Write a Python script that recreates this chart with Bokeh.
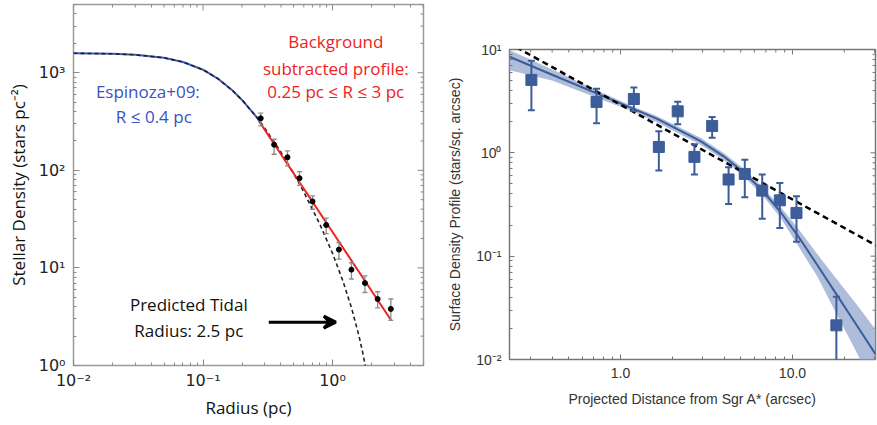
import math
from bokeh.plotting import figure
from bokeh.layouts import row, column
from bokeh.models import Range1d, FixedTicker, Arrow, VeeHead, Label
from bokeh.embed import file_html
from bokeh.resources import INLINE

# ---------------- Left panel data ----------------
radius_pc = [0.279, 0.354, 0.449, 0.556, 0.701, 0.893, 1.12, 1.40, 1.78, 2.23, 2.82]
density = [341, 183, 136, 83, 48, 27.5, 15.4, 9.6, 7.0, 4.8, 3.8]
density_hi = [385, 208, 158, 97, 54.6, 32.3, 18.2, 11.3, 8.3, 5.7, 4.8]
density_lo = [285, 146, 111, 70, 39.9, 22.4, 12.3, 7.7, 5.6, 3.9, 2.9]

king_r = [0.01, 0.02, 0.03, 0.05, 0.07, 0.1, 0.13, 0.17, 0.2, 0.25, 0.279, 0.3, 0.4, 0.5,
          0.6, 0.8, 1.0, 1.2, 1.4, 1.6, 1.7, 1.8, 1.9]
king_sigma = [1583, 1562, 1526, 1422, 1289, 1073, 872, 652, 526, 372, 310, 270, 153, 93.1,
              60.0, 27.8, 14.1, 7.41, 3.91, 2.01, 1.41, 0.964, 0.636]
espinoza_r = king_r[:11]
espinoza_sigma = king_sigma[:11]

bg_fit_r = [0.27, 2.85]
bg_fit_sigma = [320, 2.87]

left_xticks = [0.01, 0.1, 1]
left_xlabels = ["10\u207b\u00b2", "10\u207b\u00b9", "10\u2070"]
left_yticks = [1, 10, 100, 1000]
left_ylabels = ["10\u2070", "10\u00b9", "10\u00b2", "10\u00b3"]

# ---------------- Right panel data ----------------
dist = [0.303, 0.725, 1.195, 1.67, 2.15, 2.69, 3.41, 4.25, 5.28, 6.67, 8.44, 10.55, 18.0]
sd = [5.08, 3.11, 3.32, 1.14, 2.52, 0.914, 1.82, 0.552, 0.625, 0.431, 0.347, 0.262, 0.0214]
sd_hi = [7.77, 4.18, 4.28, 1.62, 3.13, 1.21, 2.22, 0.726, 0.855, 0.617, 0.511, 0.38, 0.0404]
sd_lo = [2.58, 1.93, 2.54, 0.675, 1.89, 0.617, 1.40, 0.32, 0.371, 0.23, 0.187, 0.138, 0.005]

fit_x = [0.226, 0.4, 0.732, 1.2, 1.635, 2.92, 4.0, 5.21, 6.67, 8.51, 10.65, 14, 17.4, 24, 30.4]
fit_y = [8.5, 5.70, 3.74, 2.65, 2.13, 1.30, 0.92, 0.644, 0.433, 0.269, 0.161, 0.0813, 0.0467, 0.0206, 0.01126]
fit_hi = [9.9, 6.39, 4.02, 2.78, 2.26, 1.40, 0.99, 0.70, 0.47, 0.30, 0.19, 0.104, 0.065, 0.033, 0.0195]
fit_lo = [6.3, 5.01, 3.39, 2.48, 1.97, 1.20, 0.85, 0.59, 0.39, 0.237, 0.13, 0.063, 0.031, 0.0111, 0.0048]

plaw_x = [0.22, 32]
plaw_y = [11.7, 0.122]

right_xticks = [1, 10]
right_xlabels = ["1.0", "10.0"]
right_yticks = [0.01, 0.1, 1, 10]
right_ylabels = ["10\u207b\u00b2", "10\u207b\u00b9", "10\u2070", "10\u00b9"]


def minor_list(lo_exp, hi_exp):
    return [m * 10.0 ** k for k in range(lo_exp, hi_exp) for m in range(2, 10)]


def style_axis(ax, color, font, size, tick_len=6, minor_len=3, standoff=8):
    ax.axis_line_color = None
    ax.major_tick_in = tick_len
    ax.major_tick_out = 0
    ax.minor_tick_in = minor_len
    ax.minor_tick_out = 0
    ax.major_tick_line_color = color
    ax.minor_tick_line_color = color
    ax.major_label_text_font = font
    ax.major_label_text_font_size = size
    ax.major_label_standoff = standoff


def mirror_ticks(p, xr, yr, xt, xm, yt, ym, color, tick_len, minor_len):
    # tick marks on the top and right edges (glyphs are clipped to the frame)
    p.scatter(xt, [yr.end] * len(xt), marker="dash", angle=math.pi / 2, size=2 * tick_len,
              line_color=color, line_width=1)
    p.scatter(xm, [yr.end] * len(xm), marker="dash", angle=math.pi / 2, size=2 * minor_len,
              line_color=color, line_width=1)
    p.scatter([xr.end] * len(yt), yt, marker="dash", size=2 * tick_len, line_color=color, line_width=1)
    p.scatter([xr.end] * len(ym), ym, marker="dash", size=2 * minor_len, line_color=color, line_width=1)


def add_text(p, x, y, txt, color, font, size):
    p.add_layout(Label(x=x, y=y, text=txt, text_color=color, text_font=font,
                       text_font_size=size, text_align="center", text_baseline="middle"))


# ================= Left figure =================
xr1 = Range1d(0.01, 5.04)
yr1 = Range1d(1, 5000)
p1 = figure(frame_width=350, frame_height=361, x_axis_type="log", y_axis_type="log",
            x_range=xr1, y_range=yr1, title=None,
            output_backend="svg", toolbar_location=None,
            min_border_left=73, min_border_right=17, min_border_top=4, min_border_bottom=60)
p1.grid.visible = False
p1.outline_line_color = "#9a9a9a"
p1.outline_line_width = 1.5
p1.background_fill_color = "white"
p1.border_fill_color = "white"

lx_min = minor_list(-2, 1)
ly_min = minor_list(0, 4)
p1.xaxis.ticker = FixedTicker(ticks=left_xticks, minor_ticks=lx_min)
p1.yaxis.ticker = FixedTicker(ticks=left_yticks, minor_ticks=ly_min)
p1.xaxis.major_label_overrides = dict(zip(left_xticks, left_xlabels))
p1.yaxis.major_label_overrides = dict(zip(left_yticks, left_ylabels))
for ax in (p1.xaxis[0], p1.yaxis[0]):
    style_axis(ax, "#8a8a8a", "DejaVu Sans", "16px")
    ax.major_label_text_color = "#222222"
    ax.axis_label_text_font = "Open Sans"
    ax.axis_label_text_font_size = "17px"
    ax.axis_label_text_font_style = "normal"
    ax.axis_label_text_color = "#111111"
p1.xaxis.axis_label = "Radius (pc)"
p1.yaxis.axis_label = "Stellar Density (stars pc\u207b\u00b2)"
p1.xaxis.major_label_standoff = 5
p1.xaxis.axis_label_standoff = 3
p1.yaxis.axis_label_standoff = 6
mirror_ticks(p1, xr1, yr1, left_xticks, lx_min, left_yticks, ly_min, "#8a8a8a", 6, 3)

p1.line(espinoza_r, espinoza_sigma, line_color="#3f5bc4", line_width=2)
p1.line(king_r, king_sigma, line_color="#222222", line_width=1.6, line_dash="4 3")
p1.line(bg_fit_r, bg_fit_sigma, line_color="#ee2222", line_width=2)

p1.segment(radius_pc, density_lo, radius_pc, density_hi, line_color="#8c8c8c", line_width=1.3)
p1.scatter(radius_pc, density_hi, marker="dash", size=5, line_color="#8c8c8c", line_width=1.3)
p1.scatter(radius_pc, density_lo, marker="dash", size=5, line_color="#8c8c8c", line_width=1.3)
p1.scatter(radius_pc, density, marker="circle", size=5, fill_color="black", line_color="black")

add_text(p1, 1.06, 2105, "Background", "#ee2222", "Open Sans", "17px")
add_text(p1, 1.06, 1114, "subtracted profile:", "#ee2222", "Open Sans", "17px")
add_text(p1, 1.06, 648, "0.25 pc \u2264 R \u2264 3 pc", "#ee2222", "Open Sans", "17px")
add_text(p1, 0.0375, 648, "Espinoza+09:", "#3a52c4", "Open Sans", "17px")
add_text(p1, 0.0417, 360, "R \u2264 0.4 pc", "#3a52c4", "Open Sans", "17px")
add_text(p1, 0.0777, 4.21, "Predicted Tidal", "#111111", "Open Sans", "17px")
add_text(p1, 0.0777, 2.27, "Radius: 2.5 pc", "#111111", "Open Sans", "17px")
p1.add_layout(Arrow(end=VeeHead(size=12, line_color="black", line_width=3, fill_color="black"),
                    x_start=0.322, y_start=2.78, x_end=1.06, y_end=2.78,
                    line_color="black", line_width=3))

# ================= Right figure =================
xr2 = Range1d(0.226, 30.4)
yr2 = Range1d(0.01, 10)
p2 = figure(frame_width=366, frame_height=310, x_axis_type="log", y_axis_type="log",
            x_range=xr2, y_range=yr2, title=None,
            output_backend="svg", toolbar_location=None,
            min_border_left=69, min_border_right=2, min_border_top=49, min_border_bottom=66)
p2.grid.visible = False
p2.outline_line_color = "#777777"
p2.outline_line_width = 1.5
p2.background_fill_color = "white"
p2.border_fill_color = "white"

rx_min = minor_list(-1, 2)
ry_min = minor_list(-2, 1)
p2.xaxis.ticker = FixedTicker(ticks=right_xticks, minor_ticks=rx_min)
p2.yaxis.ticker = FixedTicker(ticks=right_yticks, minor_ticks=ry_min)
p2.xaxis.major_label_overrides = dict(zip(right_xticks, right_xlabels))
p2.yaxis.major_label_overrides = dict(zip(right_yticks, right_ylabels))
for ax in (p2.xaxis[0], p2.yaxis[0]):
    style_axis(ax, "#777777", "Liberation Sans", "14px", tick_len=5, minor_len=3)
    ax.major_label_text_color = "#333333"
    ax.axis_label_text_font = "Liberation Sans"
    ax.axis_label_text_font_size = "14px"
    ax.axis_label_text_font_style = "normal"
    ax.axis_label_text_color = "#333333"
p2.xaxis.axis_label = "Projected Distance from Sgr A* (arcsec)"
p2.yaxis.axis_label = "Surface Density Profile (stars/sq. arcsec)"
p2.xaxis.axis_label_standoff = 10
p2.yaxis.axis_label_standoff = 10
mirror_ticks(p2, xr2, yr2, right_xticks, rx_min, right_yticks, ry_min, "#777777", 5, 3)

blue = "#3c5c9a"
p2.varea(x=fit_x, y1=fit_lo, y2=fit_hi, fill_color="#9fb2d4", fill_alpha=0.85)
p2.line(fit_x, fit_y, line_color=blue, line_width=2)
p2.line(plaw_x, plaw_y, line_color="black", line_width=2.5, line_dash="6 4")

p2.segment(dist, sd_lo, dist, sd_hi, line_color=blue, line_width=2)
p2.scatter(dist, sd_hi, marker="dash", size=7, line_color=blue, line_width=2)
p2.scatter(dist, sd_lo, marker="dash", size=7, line_color=blue, line_width=2)
p2.scatter(dist, sd, marker="square", size=11, fill_color=blue, line_color=blue)

layout = row(column(p1), column(p2))
open("out.html", "w").write(file_html(layout, INLINE))
